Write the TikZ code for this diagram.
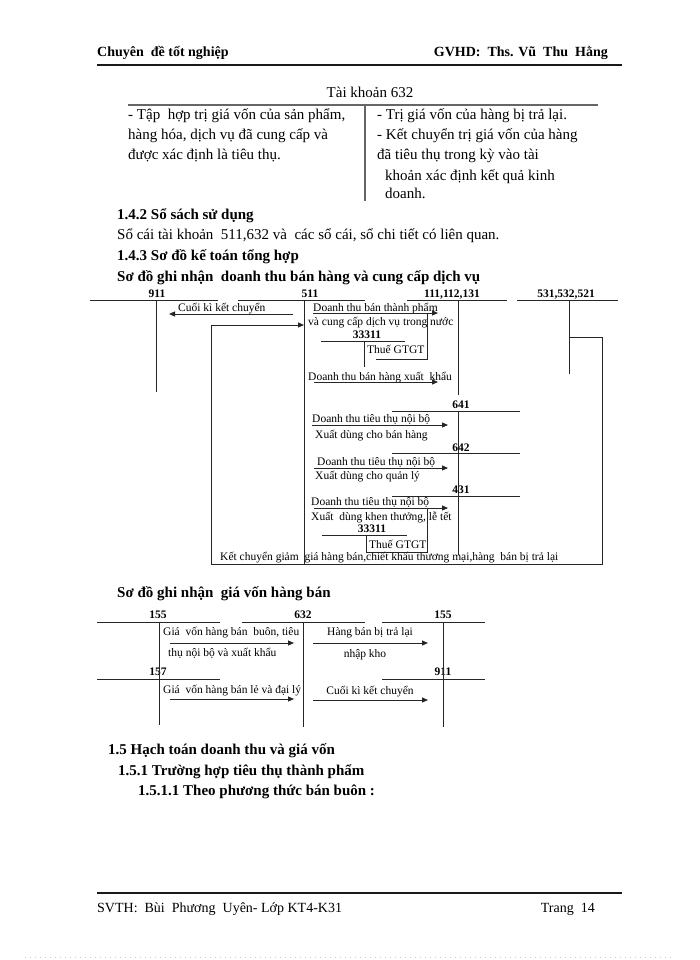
\documentclass[tikz,border=0pt]{standalone}
\usepackage{fontspec}
\setmainfont{Liberation Serif}
\usetikzlibrary{arrows.meta}
\begin{document}
\begin{tikzpicture}[x=1pt,y=-1pt,
  hd/.style={inner sep=0pt,font=\fontsize{14}{16}\selectfont\bfseries},
  ft/.style={inner sep=0pt,font=\fontsize{14}{16}\selectfont},
  body/.style={anchor=base west,inner sep=0pt,font=\fontsize{15}{18}\selectfont},
  bodyb/.style={anchor=base west,inner sep=0pt,font=\fontsize{15}{18}\selectfont\bfseries},
  tacc/.style={anchor=base west,inner sep=0pt,font=\fontsize{15}{18}\selectfont},
  sm/.style={anchor=base west,inner sep=0pt,font=\fontsize{11.5}{13}\selectfont},
  smc/.style={anchor=base,inner sep=0pt,font=\fontsize{11.5}{13}\selectfont},
  acc/.style={anchor=base,inner sep=0pt,font=\fontsize{11.5}{13}\selectfont\bfseries},
  ln/.style={draw=black!85,line width=1pt},
  rule/.style={draw=black!90,line width=2.5pt},
  arr/.style={ln,-{Triangle[length=6pt,width=5pt]}}
]
\useasboundingbox[fill=white] (0,0) rectangle (700,960);

% ---------- header ----------
\node[hd,anchor=base west] (hl) at (97,57) {Chuyên\ \ đề tốt nghiệp};
\node[hd,anchor=base east] (hr) at (608,57) {GVHD:\ \ Ths. Vũ\ \ Thu\ \ Hằng};
\coordinate (hra) at (97,65); \coordinate (hrb) at (622,65);
\draw[rule] (hra) -- (hrb);

% ---------- T account 632 ----------
\node[tacc,anchor=base] (t632) at (370,98) {Tài khoản 632};
\coordinate (t1a) at (128,105); \coordinate (t1b) at (598,105);
\coordinate (t1c) at (365,105); \coordinate (t1d) at (365,201);
\draw[ln,draw=black!60,line width=1.3pt] (t1a) -- (t1b);
\draw[ln,draw=black!60,line width=1.3pt] (t1c) -- (t1d);
\node[tacc] (l1) at (128,120) {- Tập\ \ hợp trị giá vốn của sản phẩm,};
\node[tacc] (l2) at (128,140) {hàng hóa, dịch vụ đã cung cấp và};
\node[tacc] (l3) at (128,160) {được xác định là tiêu thụ.};
\node[tacc] (r1) at (377,120) {- Trị giá vốn của hàng bị trả lại.};
\node[tacc] (r2) at (377,140) {- Kết chuyển trị giá vốn của hàng};
\node[tacc] (r3) at (377,160) {đã tiêu thụ trong kỳ vào tài};
\node[tacc] (r4) at (385,180) {khoản xác định kết quả kinh};
\node[tacc] (r5) at (385,198) {doanh.};

% ---------- headings ----------
\node[bodyb] (h142) at (117,219) {1.4.2 Sổ sách sử dụng};
\node[body] (p1) at (117,239) {Sổ cái tài khoản\ \ 511,632 và\ \ các sổ cái, sổ chi tiết có liên quan.};
\node[bodyb] (h143) at (117,260) {1.4.3 Sơ đồ kế toán tổng hợp};
\node[bodyb] (hs1) at (117,281) {Sơ đồ ghi nhận\ \ doanh thu bán hàng và cung cấp dịch vụ};

% ---------- diagram 1 : accounts ----------
\node[acc] (a911) at (157,297) {911};
\node[acc] (a511) at (310,297) {511};
\node[acc] (a111) at (452,297) {111,112,131};
\node[acc] (a531) at (566,297) {531,532,521};

\coordinate (k911a) at (90,300);  \coordinate (k911b) at (218,300);
\coordinate (k911c) at (156,300); \coordinate (k911d) at (156,392);
\coordinate (k511a) at (238,300); \coordinate (k511b) at (365,300);
\coordinate (k511c) at (304,300); \coordinate (k511d) at (304,565);
\coordinate (k111a) at (407,300); \coordinate (k111b) at (507,300);
\coordinate (k111c) at (458,300); \coordinate (k111d) at (458,395);
\coordinate (k531a) at (517,300); \coordinate (k531b) at (618,300);
\coordinate (k531c) at (569,300); \coordinate (k531d) at (569,374);
\draw[ln] (k911a) -- (k911b) (k911c) -- (k911d);
\draw[ln] (k511a) -- (k511b) (k511c) -- (k511d);
\draw[ln] (k111a) -- (k111b) (k111c) -- (k111d);
\draw[ln] (k531a) -- (k531b) (k531c) -- (k531d);

% closing to 911
\node[sm] (ck1) at (178,311) {Cuối kì kết chuyển};
\coordinate (ck1a) at (293,314); \coordinate (ck1b) at (169,314);
\draw[arr] (ck1a) -- (ck1b);

% loop 531 -> 511
\coordinate (lp1) at (569,337); \coordinate (lp2) at (602,337);
\coordinate (lp3) at (602,564); \coordinate (lp4) at (211,564);
\coordinate (lp5) at (211,325); \coordinate (lp6) at (304,325);
\draw[arr] (lp1) -- (lp2) -- (lp3) -- (lp4) -- (lp5) -- (lp6);
\node[sm] (kcg) at (220,560) {Kết chuyển giảm\ \ giá hàng bán,chiết khấu thương mại,hàng\ \ bán bị trả lại};

% sales in country
\node[sm] (dt1) at (313,311) {Doanh thu bán thành phẩm};
\node[sm] (dt1b) at (308,325) {và cung cấp dịch vụ trong nước};
\coordinate (dt1s) at (313,313); \coordinate (dt1e) at (438,313);
\draw[arr] (dt1s) -- (dt1e);
\node[acc] (v1) at (367,338) {33311};
\coordinate (v1a) at (321,341); \coordinate (v1b) at (405,341);
\coordinate (v1c) at (364,341); \coordinate (v1d) at (364,367);
\draw[ln] (v1a) -- (v1b) (v1c) -- (v1d);
\node[sm] (v1t) at (367,353) {Thuế GTGT};
\coordinate (v1e) at (376,359); \coordinate (v1f) at (427,359); \coordinate (v1g) at (427,313);
\draw[ln] (v1e) -- (v1f) -- (v1g);

% export
\node[sm] (dt2) at (308,380) {Doanh thu bán hàng xuất\ \ khẩu};
\coordinate (dt2s) at (314,382); \coordinate (dt2e) at (438,382);
\draw[arr] (dt2s) -- (dt2e);

% 641
\node[acc] (a641) at (461,408) {641};
\coordinate (k641a) at (392,411); \coordinate (k641b) at (520,411);
\coordinate (k641c) at (458,411); \coordinate (k641d) at (458,453);
\draw[ln] (k641a) -- (k641b) (k641c) -- (k641d);
\node[sm] (n1) at (312,422) {Doanh thu tiêu thụ nội bộ};
\coordinate (n1s) at (312,425); \coordinate (n1e) at (448,425);
\draw[arr] (n1s) -- (n1e);
\node[sm] (n1b) at (315,438) {Xuất dùng cho bán hàng};

% 642
\node[acc] (a642) at (461,451) {642};
\coordinate (k642a) at (392,453); \coordinate (k642b) at (520,453);
\coordinate (k642c) at (458,453); \coordinate (k642d) at (458,496);
\draw[ln] (k642a) -- (k642b) (k642c) -- (k642d);
\node[sm] (n2) at (317,465) {Doanh thu tiêu thụ nội bộ};
\coordinate (n2s) at (314,468); \coordinate (n2e) at (448,468);
\draw[arr] (n2s) -- (n2e);
\node[sm] (n2b) at (315,479) {Xuất dùng cho quản lý};

% 431
\node[acc] (a431) at (461,493) {431};
\coordinate (k431a) at (392,496); \coordinate (k431b) at (520,496);
\coordinate (k431c) at (458,496); \coordinate (k431d) at (458,555);
\draw[ln] (k431a) -- (k431b) (k431c) -- (k431d);
\node[sm] (n3) at (311,505) {Doanh thu tiêu thụ nội bộ};
\coordinate (n3s) at (314,508); \coordinate (n3e) at (448,508);
\draw[arr] (n3s) -- (n3e);
\node[sm] (n3b) at (311,520) {Xuất\ \ dùng khen thưởng,\ lễ tết};
\node[acc] (v2) at (372,532) {33311};
\coordinate (v2a) at (322,535); \coordinate (v2b) at (407,535);
\coordinate (v2c) at (366,535); \coordinate (v2d) at (366,552);
\draw[ln] (v2a) -- (v2b) (v2c) -- (v2d);
\node[sm] (v2t) at (369,548) {Thuế GTGT};
\coordinate (v2f) at (427,552); \coordinate (v2g) at (427,508);
\draw[ln] (v2d) -- (v2f) -- (v2g);

% ---------- diagram 2 ----------
\node[bodyb] (hs2) at (117,597) {Sơ đồ ghi nhận\ \ giá vốn hàng bán};
\node[acc] (b155) at (158,618) {155};
\node[acc] (b632) at (303,618) {632};
\node[acc] (b155r) at (443,618) {155};
\node[acc] (b157) at (158,675) {157};
\node[acc] (b911) at (443,675) {911};

\coordinate (m1a) at (97,622);  \coordinate (m1b) at (220,622);
\coordinate (m1c) at (159,622); \coordinate (m1d) at (159,725);
\coordinate (m2a) at (242,622); \coordinate (m2b) at (365,622);
\coordinate (m2c) at (303,622); \coordinate (m2d) at (303,727);
\coordinate (m3a) at (382,622); \coordinate (m3b) at (485,622);
\coordinate (m3c) at (443,622); \coordinate (m3d) at (443,727);
\coordinate (m4a) at (97,679);  \coordinate (m4b) at (220,679);
\coordinate (m5a) at (382,679); \coordinate (m5b) at (485,679);
\draw[ln] (m1a) -- (m1b) (m1c) -- (m1d);
\draw[ln] (m2a) -- (m2b) (m2c) -- (m2d);
\draw[ln] (m3a) -- (m3b) (m3c) -- (m3d);
\draw[ln] (m4a) -- (m4b);
\draw[ln] (m5a) -- (m5b);

\node[sm] (g1) at (163,635) {Giá\ \ vốn hàng bán\ \ buôn, tiêu};
\node[sm] (g1b) at (168,656) {thụ nội bộ và xuất khẩu};
\coordinate (g1s) at (170,643); \coordinate (g1e) at (294,643);
\draw[arr] (g1s) -- (g1e);
\node[sm] (g2) at (163,693) {Giá\ \ vốn hàng bán lẻ và đại lý};
\coordinate (g2s) at (170,699); \coordinate (g2e) at (294,699);
\draw[arr] (g2s) -- (g2e);
\node[smc] (g3) at (370,635) {Hàng bán bị trả lại};
\node[smc] (g3b) at (365,657) {nhập kho};
\coordinate (g3s) at (313,643); \coordinate (g3e) at (428,643);
\draw[arr] (g3s) -- (g3e);
\node[smc] (g4) at (370,694) {Cuối kì kết chuyển};
\coordinate (g4s) at (313,700); \coordinate (g4e) at (428,700);
\draw[arr] (g4s) -- (g4e);

% ---------- section 1.5 ----------
\node[bodyb] (s15) at (108,754) {1.5 Hạch toán doanh thu và giá vốn};
\node[bodyb] (s151) at (118,775) {1.5.1 Trường hợp tiêu thụ thành phẩm};
\node[bodyb] (s1511) at (138,795) {1.5.1.1 Theo phương thức bán buôn :};

% ---------- footer ----------
\coordinate (fra) at (97,893); \coordinate (frb) at (622,893);
\draw[rule] (fra) -- (frb);
\node[ft,anchor=base west] (fl) at (97,912) {SVTH:\ \ Bùi\ \ Phương\ \ Uyên- Lớp KT4-K31};
\node[ft,anchor=base east] (fr) at (595,912) {Trang\ \ 14};
\coordinate (dta) at (25,957); \coordinate (dtb) at (673,957);
\draw[draw=red!30!blue!25,line width=1pt,dash pattern=on 1pt off 4pt] (dta) -- (dtb);
\end{tikzpicture}
\end{document}
